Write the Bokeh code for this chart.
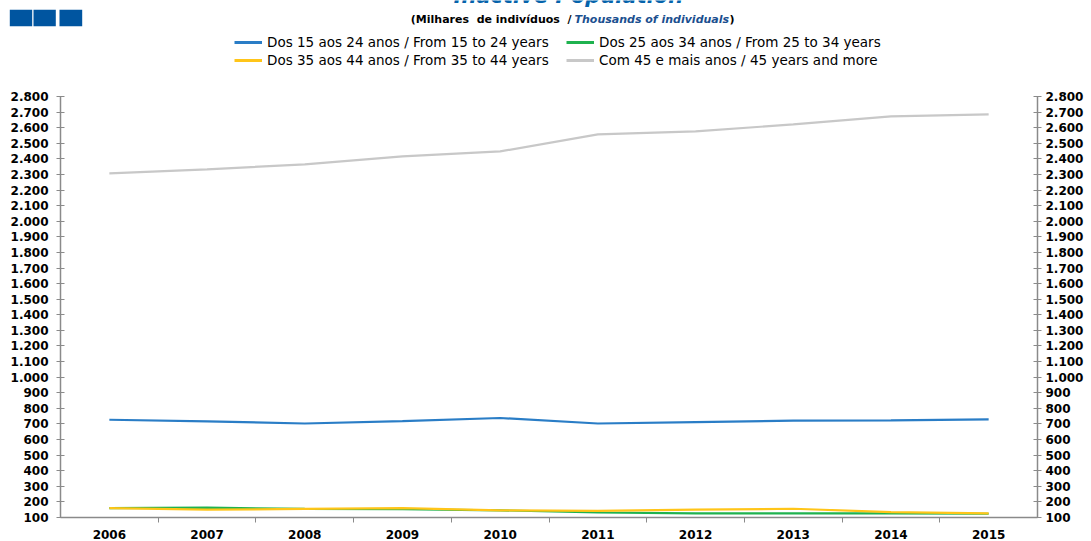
from bokeh.plotting import figure
from bokeh.layouts import column
from bokeh.models import (Range1d, LinearAxis, FixedTicker, CustomJSTickFormatter,
                          Legend, LegendItem, Label)
from bokeh.embed import file_html
from bokeh.resources import INLINE

# ---------------- data ----------------
years = [2006, 2007, 2008, 2009, 2010, 2011, 2012, 2013, 2014, 2015]
age_15_24 = [727, 716, 703, 718, 738, 703, 712, 721, 723, 729]
age_25_34 = [160, 163, 155, 153, 146, 132, 126, 126, 126, 124]
age_35_44 = [160, 150, 155, 160, 146, 143, 150, 156, 134, 126]
age_45_plus = [2307, 2333, 2365, 2416, 2448, 2557, 2576, 2621, 2672, 2685]
y_ticks = list(range(100, 2900, 100))

names = ["Dos 15 aos 24 anos / From 15 to 24 years",
         "Dos 25 aos 34 anos / From 25 to 34 years",
         "Dos 35 aos 44 anos / From 35 to 44 years",
         "Com 45 e mais anos / 45 years and more"]
colors = ["#2a7dc6", "#1fb24f", "#ffc519", "#c8c8c8"]
series = [age_15_24, age_25_34, age_35_44, age_45_plus]

title_text = "Inactive Population"
sub_black = "(Milhares\u00a0 de indivíduos\u00a0 /"
sub_blue = "Thousands of individuals"
sub_close = ")"

# ---------------- layout ----------------
W, H = 1091, 541
TOP_H = 90
MAIN_H = H - TOP_H

# ---- header figure (title, subtitle, legend, logo) ----
top = figure(width=W, height=TOP_H, x_range=Range1d(0, W), y_range=Range1d(TOP_H, 0),
             output_backend="svg", toolbar_location=None,
             x_axis_location=None, y_axis_location=None,
             min_border=0, min_border_left=0, min_border_right=0,
             min_border_top=0, min_border_bottom=0, outline_line_color=None)
top.frame_align = False
top.xgrid.visible = False
top.ygrid.visible = False

# logo squares
top.quad(left=[9.3, 33, 59], right=[31.7, 55.3, 81.7], top=[9.3] * 3, bottom=[25.7] * 3,
         fill_color="#0055a0", line_color=None)

top.add_layout(Label(x=568, y=-5, text=title_text, text_align="center",
                     text_baseline="alphabetic", text_font="DejaVu Sans",
                     text_font_style="bold italic", text_font_size="21px",
                     text_color="#0563ab"))
top.add_layout(Label(x=571, y=19, text=sub_black, text_align="right",
                     text_baseline="middle", text_font="DejaVu Sans",
                     text_font_style="bold", text_font_size="11px", text_color="#000000"))
top.add_layout(Label(x=574, y=19, text=sub_blue, text_align="left",
                     text_baseline="middle", text_font="DejaVu Sans",
                     text_font_style="bold italic", text_font_size="11px",
                     text_color="#1b4f8f"))
top.add_layout(Label(x=729, y=19, text=sub_close, text_align="left",
                     text_baseline="middle", text_font="DejaVu Sans",
                     text_font_style="bold", text_font_size="11px", text_color="#000000"))

legend_renderers = [top.line(x=[-50, -40], y=[-50, -50], line_color=c, line_width=3)
                    for c in colors]
items = [LegendItem(label=n, renderers=[r]) for n, r in zip(names, legend_renderers)]
legend = Legend(items=items, ncols=2, orientation="horizontal",
                location=(234, TOP_H - 69),
                glyph_width=28, glyph_height=18, label_height=18, label_width=299,
                label_standoff=5, spacing=0, padding=0, margin=0,
                border_line_color=None, background_fill_alpha=0,
                label_text_font="DejaVu Sans", label_text_font_size="13.5px",
                label_text_color="#000000")
top.add_layout(legend, "center")

# ---- main chart ----
FL, FR = 60, 1037
FT = 96 - TOP_H
FB = 520 - TOP_H
p = figure(width=W, height=MAIN_H, x_range=Range1d(2005.5, 2015.5),
           y_range=Range1d(100, 2800),
           output_backend="svg", toolbar_location=None,
           min_border_left=FL, min_border_right=W - FR, min_border_top=FT,
           min_border_bottom=MAIN_H - FB, outline_line_color=None)
p.frame_align = False
p.xgrid.visible = False
p.ygrid.visible = False

for vals, c in zip(series, colors):
    p.line(years, vals, line_color=c, line_width=2.2)

AX_COLOR = "#8a8a8a"
fmt = CustomJSTickFormatter(code="""
const v = Math.round(tick);
if (v >= 1000) {
  const r = v % 1000;
  return Math.floor(v / 1000) + '.' + String(r).padStart(3, '0');
}
return String(v);
""")


def style_y(ax, standoff):
    ax.ticker = FixedTicker(ticks=y_ticks)
    ax.formatter = fmt
    ax.axis_line_color = AX_COLOR
    ax.axis_line_width = 1.5
    ax.major_tick_line_color = AX_COLOR
    ax.major_tick_in = 4
    ax.major_tick_out = 4
    ax.minor_tick_line_color = None
    ax.major_label_standoff = standoff
    ax.major_label_text_font = "DejaVu Sans"
    ax.major_label_text_font_style = "bold"
    ax.major_label_text_font_size = "12px"
    ax.major_label_text_color = "#000000"


style_y(p.yaxis[0], 8)
ra = LinearAxis()
style_y(ra, 4)
p.add_layout(ra, "right")

xa = p.xaxis[0]
xa.ticker = FixedTicker(ticks=years, minor_ticks=[y + 0.5 for y in years[:-1]])
xa.axis_line_color = AX_COLOR
xa.axis_line_width = 1.5
xa.major_tick_line_color = None
xa.major_tick_in = 0
xa.major_tick_out = 0
xa.minor_tick_line_color = AX_COLOR
xa.minor_tick_in = 0
xa.minor_tick_out = 5
xa.major_label_standoff = 7
xa.major_label_text_font = "DejaVu Sans"
xa.major_label_text_font_style = "bold"
xa.major_label_text_font_size = "12px"
xa.major_label_text_color = "#000000"

layout = column(top, p, spacing=0)
open("out.html", "w").write(file_html(layout, INLINE))
